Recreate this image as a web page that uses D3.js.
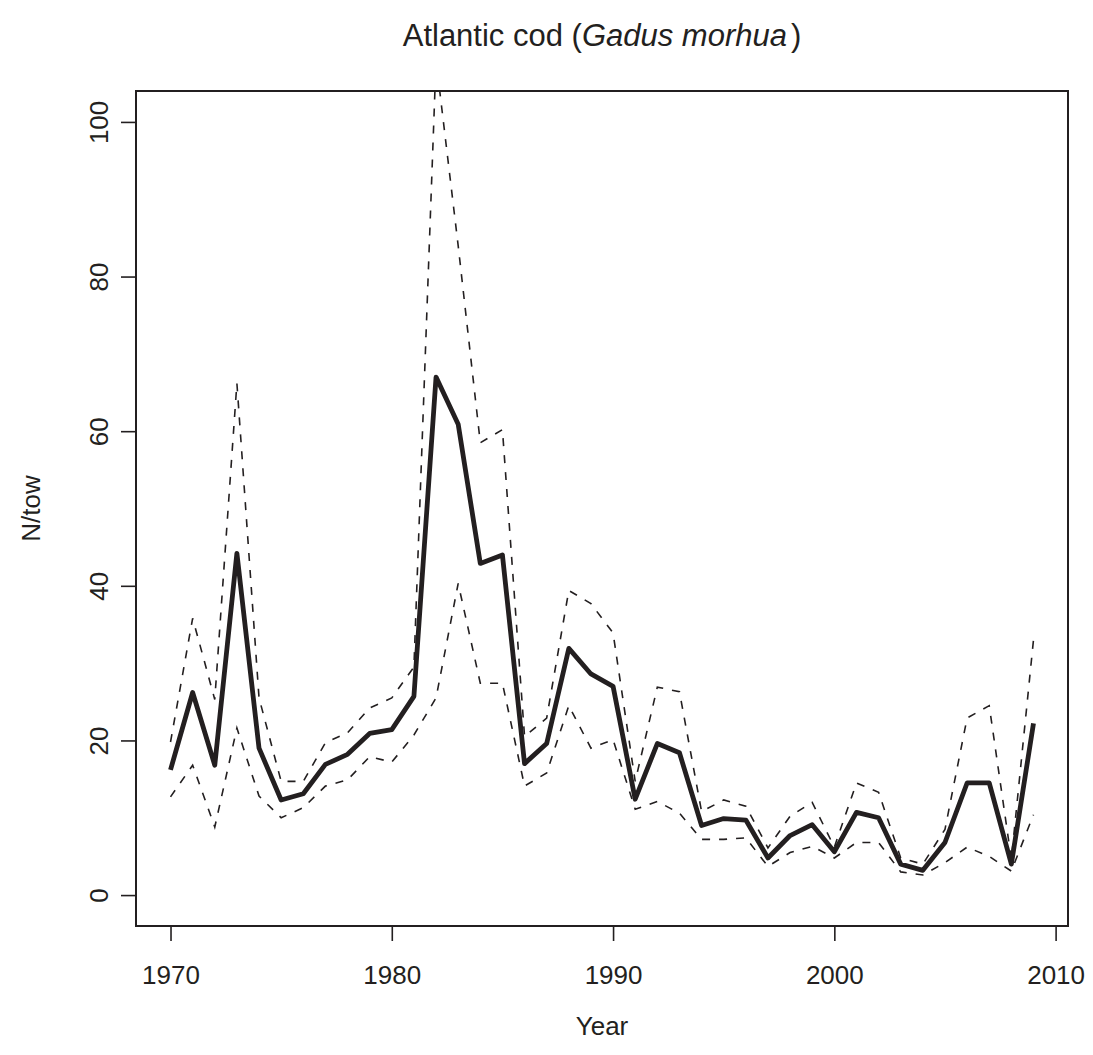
<!DOCTYPE html>
<html>
<head>
<meta charset="utf-8">
<script src="https://cdn.jsdelivr.net/npm/d3@7"></script>
<style>
  body { margin: 0; background: #fff; }
  text { font-family: "Liberation Sans", Arial, Helvetica, sans-serif; fill: #231f20; }
</style>
</head>
<body>
<svg id="chart" width="1093" height="1055"></svg>
<script>
// dados (N/tow por ano)
var years = [1970, 1971, 1972, 1973, 1974, 1975, 1976, 1977, 1978, 1979,
             1980, 1981, 1982, 1983, 1984, 1985, 1986, 1987, 1988, 1989,
             1990, 1991, 1992, 1993, 1994, 1995, 1996, 1997, 1998, 1999,
             2000, 2001, 2002, 2003, 2004, 2005, 2006, 2007, 2008, 2009];
var meanVals = [16.2, 26.2, 16.8, 44.2, 19.0, 12.3, 13.1, 16.9, 18.2, 20.9,
                21.4, 25.7, 67.0, 60.9, 42.9, 44.0, 17.0, 19.6, 31.9, 28.6,
                27.0, 12.4, 19.6, 18.4, 9.0, 9.9, 9.7, 4.8, 7.7, 9.1,
                5.6, 10.7, 10.0, 4.0, 3.2, 6.8, 14.5, 14.5, 4.0, 22.2];
var upperVals = [19.8, 35.8, 25.3, 66.2, 25.5, 14.7, 14.7, 19.7, 21.0, 24.2,
                 25.5, 29.5, 108, 84, 58.5, 60.2, 20.5, 22.9, 39.4, 37.7,
                 33.9, 14.7, 26.9, 26.3, 10.8, 12.3, 11.5, 6.1, 10.2, 12.0,
                 6.2, 14.5, 13.3, 4.8, 4.0, 8.5, 22.9, 24.5, 4.6, 33.0];
var lowerVals = [12.7, 16.8, 8.8, 21.6, 12.8, 10.0, 11.3, 14.1, 14.9, 17.9,
                 17.2, 20.7, 25.5, 40.3, 27.4, 27.4, 14.1, 15.8, 24.5, 19.0,
                 20.1, 11.1, 12.1, 10.6, 7.2, 7.2, 7.4, 3.7, 5.5, 6.3,
                 4.8, 6.8, 6.8, 3.0, 2.6, 4.2, 6.2, 5.0, 3.1, 10.4];
var xTicks = [1970, 1980, 1990, 2000, 2010];
var yTicks = [0, 20, 40, 60, 80, 100];

var ink = "#231f20";
var svg = d3.select("#chart");

// área do gráfico (estilo R: eixos com 4% de folga)
var pLeft = 136, pRight = 1068, pTop = 91, pBottom = 926;
var x = d3.scaleLinear().domain([1968.44, 2010.56]).range([pLeft, pRight]);
var y = d3.scaleLinear().domain([-4, 104]).range([pBottom, pTop]);

svg.append("defs").append("clipPath").attr("id", "clip")
  .append("rect")
  .attr("x", pLeft).attr("y", pTop)
  .attr("width", pRight - pLeft).attr("height", pBottom - pTop);

function series(vals) {
  return years.map(function (yr, i) { return { yr: yr, v: vals[i] }; });
}

var line = d3.line()
  .x(function (d) { return x(d.yr); })
  .y(function (d) { return y(d.v); });

var plot = svg.append("g").attr("clip-path", "url(#clip)");

// intervalos (tracejados)
[upperVals, lowerVals].forEach(function (vals) {
  plot.append("path")
    .datum(series(vals))
    .attr("d", line)
    .attr("fill", "none")
    .attr("stroke", ink)
    .attr("stroke-width", 1.6)
    .attr("stroke-dasharray", "8 9");
});

// média (linha grossa)
plot.append("path")
  .datum(series(meanVals))
  .attr("d", line)
  .attr("fill", "none")
  .attr("stroke", ink)
  .attr("stroke-width", 4.8)
  .attr("stroke-linejoin", "round");

// caixa
svg.append("rect")
  .attr("x", pLeft).attr("y", pTop)
  .attr("width", pRight - pLeft).attr("height", pBottom - pTop)
  .attr("fill", "none")
  .attr("stroke", ink)
  .attr("stroke-width", 2);

// eixo x
var gx = svg.append("g")
  .attr("transform", "translate(0," + pBottom + ")")
  .call(d3.axisBottom(x).tickValues(xTicks).tickFormat(d3.format("d"))
    .tickSize(15).tickSizeOuter(0).tickPadding(0));
gx.select(".domain").remove();
gx.selectAll(".tick line").attr("stroke", ink).attr("stroke-width", 1.6);
gx.selectAll(".tick text")
  .attr("y", 58).attr("dy", 0)
  .style("font-size", "26px");

// eixo y
var gy = svg.append("g")
  .attr("transform", "translate(" + pLeft + ",0)")
  .call(d3.axisLeft(y).tickValues(yTicks).tickSize(15).tickSizeOuter(0));
gy.select(".domain").remove();
gy.selectAll(".tick line").attr("stroke", ink).attr("stroke-width", 1.6);
gy.selectAll(".tick text")
  .attr("transform", "rotate(-90)")
  .attr("x", 0).attr("y", -28).attr("dy", 0)
  .attr("text-anchor", "middle")
  .style("font-size", "26px");

// rótulos
svg.append("text")
  .attr("transform", "translate(40," + ((pTop + pBottom) / 2) + ") rotate(-90)")
  .attr("text-anchor", "middle")
  .style("font-size", "26px")
  .text("N/tow");

svg.append("text")
  .attr("x", (pLeft + pRight) / 2).attr("y", 1035)
  .attr("text-anchor", "middle")
  .style("font-size", "26px")
  .text("Year");

var title = svg.append("text")
  .attr("x", (pLeft + pRight) / 2).attr("y", 46)
  .attr("text-anchor", "middle")
  .style("font-size", "31px");
title.append("tspan").text("Atlantic cod (");
title.append("tspan").style("font-style", "italic").text("Gadus morhua");
title.append("tspan").attr("dx", 4).text(")");
</script>
</body>
</html>
